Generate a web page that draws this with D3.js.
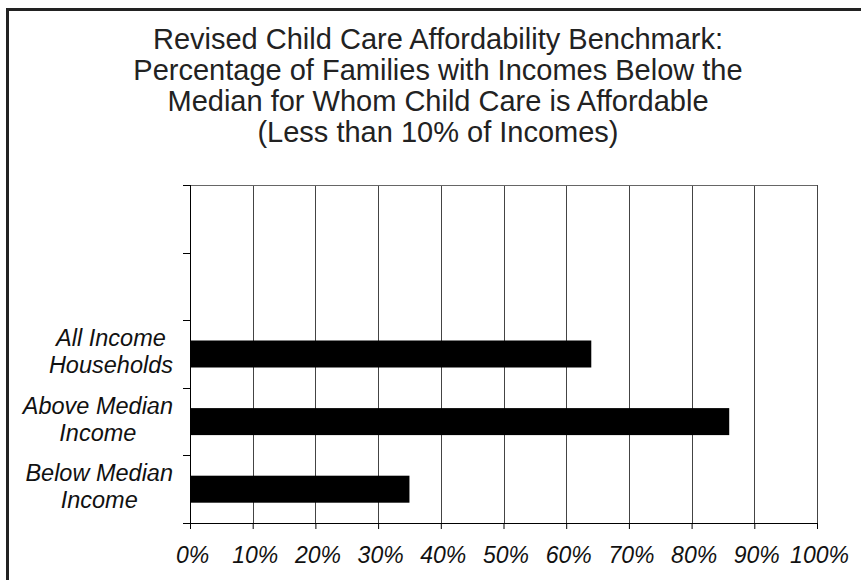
<!DOCTYPE html>
<html>
<head>
<meta charset="utf-8">
<script src="https://cdn.jsdelivr.net/npm/d3@7"></script>
<style>
  body { margin: 0; background: #fff; }
  svg { display: block; font-family: "Liberation Sans", Arial, sans-serif; }
</style>
</head>
<body>
<svg id="chart" width="861" height="580"></svg>
<script>
// chart data
var titleLines = [
    "Revised Child Care Affordability Benchmark:",
    "Percentage of Families with Incomes Below the",
    "Median for Whom Child Care is Affordable",
    "(Less than 10% of Incomes)"
];
// top two slots are empty in the original
var categories = ["blank1", "blank2", "all", "above", "below"];
var categoryLabels = [[], [], ["All Income", "Households"], ["Above Median", "Income"], ["Below Median", "Income"]];
var values = [null, null, 64, 86, 35];
var xTicks = [0, 10, 20, 30, 40, 50, 60, 70, 80, 90, 100];

var svg = d3.select("#chart"),
    margin = { top: 185, left: 190, right: 44, bottom: 57 },
    width = +svg.attr("width") - margin.left - margin.right,
    height = +svg.attr("height") - margin.top - margin.bottom;

// outer frame (right/bottom edges run off the picture)
svg.append("path")
    .attr("d", "M7.5,580 V9.5 H861")
    .attr("fill", "none")
    .attr("stroke", "#222")
    .attr("stroke-width", 3);

// title
svg.append("g").selectAll("text")
    .data(titleLines)
    .enter().append("text")
    .attr("x", 438)
    .attr("y", function (d, i) { return 49 + i * 31; })
    .attr("text-anchor", "middle")
    .attr("font-size", 29)
    .attr("fill", "#222")
    .text(function (d) { return d; });

var g = svg.append("g").attr("transform", "translate(" + margin.left + "," + margin.top + ")");

var x = d3.scaleLinear().domain([0, 100]).range([0, width]);
var y = d3.scaleBand().domain(categories).range([0, height]).paddingInner(0).paddingOuter(0);

// vertical gridlines
g.append("g")
    .selectAll("line")
    .data(xTicks.slice(1))
    .enter().append("line")
    .attr("x1", function (d) { return Math.round(x(d)) + 0.5; })
    .attr("x2", function (d) { return Math.round(x(d)) + 0.5; })
    .attr("y1", 0)
    .attr("y2", height)
    .attr("stroke", "#444")
    .attr("stroke-width", 1);

// top border of plot area
g.append("line")
    .attr("x1", 0).attr("x2", width)
    .attr("y1", 0.5).attr("y2", 0.5)
    .attr("stroke", "#666");

// bars
var bandH = y.bandwidth(), barH = 27;
g.selectAll(".bar")
    .data(categories.filter(function (c, i) { return values[i] != null; }))
    .enter().append("rect")
    .attr("class", "bar")
    .attr("x", 0)
    .attr("y", function (c) { return y(c) + (bandH - barH) / 2; })
    .attr("width", function (c) { return x(values[categories.indexOf(c)]); })
    .attr("height", barH)
    .attr("fill", "#000");

// x axis
var xAxis = g.append("g")
    .attr("transform", "translate(0," + height + ")")
    .call(d3.axisBottom(x).tickValues(xTicks).tickSize(6).tickFormat(function (d) { return d + "%"; }));
xAxis.select(".domain").attr("stroke", "#000");
xAxis.selectAll(".tick line").attr("stroke", "#000");
xAxis.selectAll(".tick text")
    .attr("y", 40)
    .attr("dy", 0)
    .attr("dx", 2)
    .attr("fill", "#111")
    .attr("font-size", 23)
    .attr("font-style", "italic")
    .attr("font-family", "Liberation Sans, Arial, sans-serif");

// y axis: ticks on band edges
var yAxis = g.append("g");
yAxis.append("line")
    .attr("x1", 0.5).attr("x2", 0.5)
    .attr("y1", 0).attr("y2", height)
    .attr("stroke", "#000");
yAxis.selectAll(".ytick")
    .data(categories.concat(["end"]))
    .enter().append("line")
    .attr("x1", -7).attr("x2", 0)
    .attr("y1", function (c, i) { return Math.round(i * bandH) + 0.5; })
    .attr("y2", function (c, i) { return Math.round(i * bandH) + 0.5; })
    .attr("stroke", "#000");

// category labels: block right-aligned, lines centred within it
var labRight = -17;
var lab = yAxis.selectAll(".ylab")
    .data(categories)
    .enter().append("text")
    .attr("text-anchor", "middle")
    .attr("font-size", 23.5)
    .attr("font-style", "italic")
    .attr("fill", "#111")
    .attr("y", function (c) { return y(c) + bandH / 2 - 8; });
lab.selectAll("tspan")
    .data(function (c) { return categoryLabels[categories.indexOf(c)]; })
    .enter().append("tspan")
    .attr("dy", function (d, i) { return i === 0 ? 0 : 27; })
    .text(function (d) { return d; });
lab.each(function () {
    var spans = d3.select(this).selectAll("tspan"),
        w = 0;
    spans.each(function () { w = Math.max(w, this.getComputedTextLength()); });
    spans.attr("x", labRight - w / 2);
});
</script>
</body>
</html>
